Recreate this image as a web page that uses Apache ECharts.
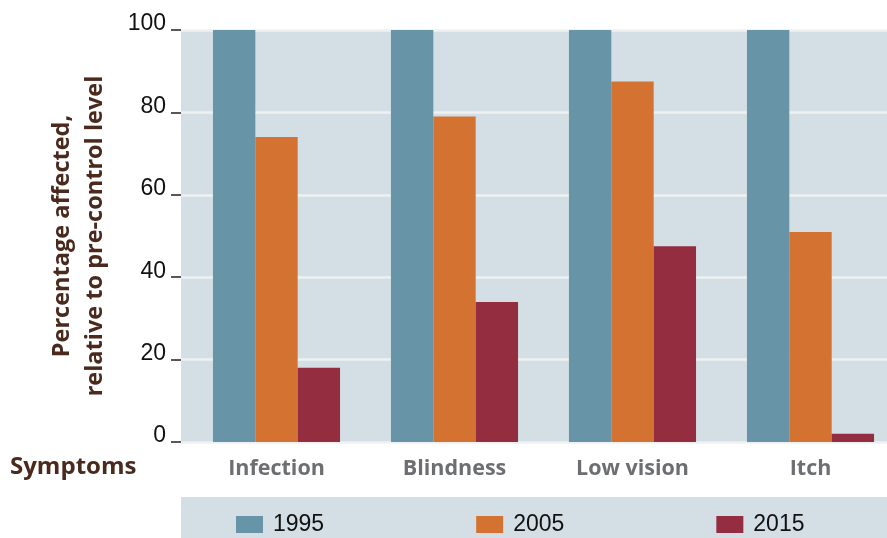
<!DOCTYPE html>
<html>
<head>
<meta charset="utf-8">
<script src="https://cdn.jsdelivr.net/npm/echarts@6/dist/echarts.min.js"></script>
<style>
  html, body { margin: 0; padding: 0; background: #fff; }
  #chart { width: 887px; height: 538px; }
</style>
</head>
<body>
<div id="chart"></div>
<script>
// data
const categories = ['Infection', 'Blindness', 'Low vision', 'Itch'];
const years = ['1995', '2005', '2015'];
const values1995 = [100, 100, 100, 100];
const values2005 = [74, 79, 87.5, 51];
const values2015 = [18, 34, 47.5, 2];
const yTicks = [0, 20, 40, 60, 80, 100];

const colors = ['#6794a7', '#d47232', '#952d41'];
const panel = '#d3dfe5';
const brown = '#4a2a1c';

const chart = echarts.init(document.getElementById('chart'));

const seriesData = [values1995, values2005, values2015];

const option = {
  animation: false,
  color: colors,
  grid: [
    // bars (last category runs past the right edge in the original)
    { left: 187.5, width: 712, top: 30, bottom: 96, outerBoundsMode: 'none' },
    // background + y axis
    { left: 181, right: 0, top: 30, bottom: 96, outerBoundsMode: 'none', show: true, backgroundColor: panel, borderWidth: 0 }
  ],
  xAxis: [
    {
      type: 'category',
      gridIndex: 0,
      data: categories,
      axisLine: { show: false },
      axisTick: { show: false },
      axisLabel: {
        margin: 16,
        color: '#6d6e71',
        fontFamily: 'Open Sans',
        fontWeight: 'bold',
        fontSize: 21.5
      }
    },
    { type: 'value', gridIndex: 1, show: false }
  ],
  yAxis: [
    { type: 'value', gridIndex: 0, min: 0, max: 100, show: false },
    {
      type: 'value',
      gridIndex: 1,
      min: yTicks[0],
      max: yTicks[yTicks.length - 1],
      interval: 20,
      axisLine: { show: false },
      axisTick: { show: true, length: 10, lineStyle: { color: '#222', width: 1.5 } },
      splitLine: { show: true, lineStyle: { color: '#eef0f1', width: 2.5 } },
      axisLabel: {
        margin: 15,
        formatter: '{v|{value}}',
        rich: {
          v: {
            color: '#111',
            fontFamily: 'Liberation Sans',
            fontSize: 23,
            padding: [0, 0, 12, 0]
          }
        }
      },
      name: 'Percentage affected,\nrelative to pre-control level',
      nameLocation: 'middle',
      nameRotate: 90,
      nameGap: 69,
      nameTextStyle: {
        color: brown,
        fontFamily: 'Open Sans',
        fontWeight: 'bold',
        fontSize: 23.5,
        lineHeight: 33
      }
    }
  ],
  legend: {
    left: 231,
    top: 508,
    itemWidth: 27,
    itemHeight: 17,
    itemGap: 152,
    icon: 'rect',
    textStyle: {
      color: '#111',
      fontFamily: 'Liberation Sans',
      fontSize: 23,
      padding: [0, 0, 0, 5]
    },
    data: years
  },
  graphic: [
    {
      type: 'rect',
      left: 181,
      top: 497,
      shape: { width: 706, height: 41 },
      style: { fill: panel },
      z: -1
    },
    {
      type: 'text',
      left: 10,
      top: 455,
      style: {
        text: 'Symptoms',
        fill: brown,
        font: 'bold 24px "Open Sans"'
      }
    }
  ],
  series: years.map((y, i) => ({
    name: y,
    type: 'bar',
    xAxisIndex: 0,
    yAxisIndex: 0,
    barGap: 0,
    barCategoryGap: '28.6%',
    data: seriesData[i]
  }))
};

chart.setOption(option);
</script>
</body>
</html>
